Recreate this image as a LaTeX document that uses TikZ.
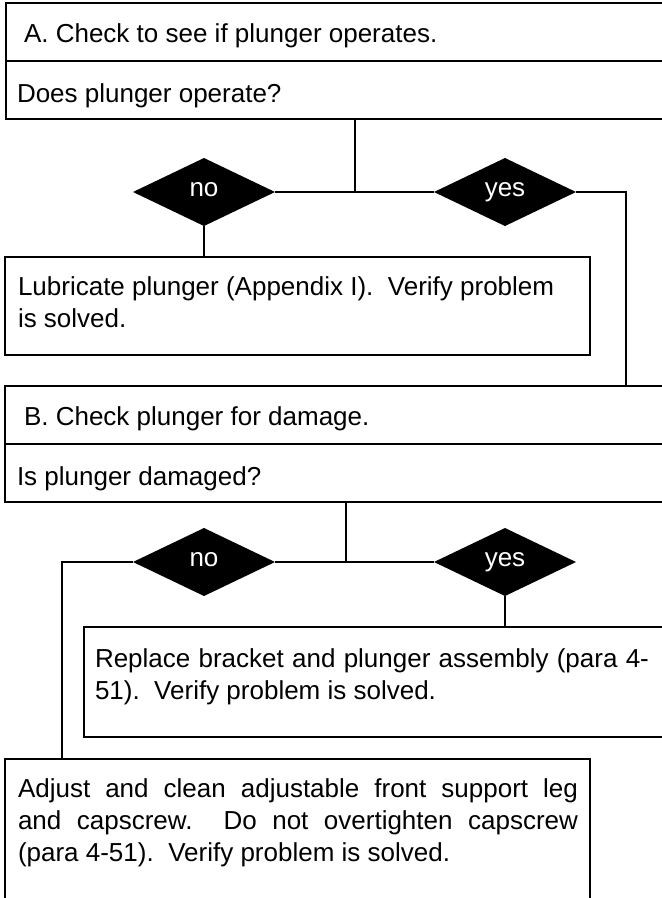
\documentclass[tikz,border=0pt]{standalone}
\usepackage{fontspec}
\setmainfont{Liberation Sans}
\usetikzlibrary{shapes.geometric}
\begin{document}
\begin{tikzpicture}[x=1pt,y=-1pt,line width=1.6pt,
  every node/.append style={font=\fontsize{26}{32}\selectfont, outer sep=0pt},
  panel/.style={draw, rectangle, anchor=north west, inner sep=0pt},
  txt/.style={anchor=base west, inner sep=0pt},
  dia/.style={diamond, fill=black, text=white, inner sep=0pt, minimum width=142pt, minimum height=68pt, text height=14pt, text depth=5pt},
  conn/.style={draw, line width=1.6pt}]
\useasboundingbox (0,0) rectangle (662,898);
\clip (0,0) rectangle (662,898);
\frenchspacing
% Block A
\node[panel, minimum width=720pt, minimum height=58pt] (a1) at (6,3) {};
\node[panel, minimum width=720pt, minimum height=58pt] (a2) at (6,61) {};
\node[txt] (ta) at (24,42) {A. Check to see if plunger operates.};
\node[txt] (td) at (17,102) {Does plunger operate?};
\node[dia] (no1) at (204,192) {no};
\node[dia] (yes1) at (505,192) {yes};
\node[panel, minimum width=585pt, minimum height=98pt] (lub) at (5,257) {};
\node[txt] (tl1) at (18,295) {Lubricate plunger (Appendix I).\ \ Verify problem};
\node[txt] (tl2) at (18,327) {is solved.};
% Block B
\node[panel, minimum width=720pt, minimum height=58pt] (b1) at (5,386) {};
\node[panel, minimum width=720pt, minimum height=58pt] (b2) at (5,444) {};
\node[txt] (tb) at (24,425) {B. Check plunger for damage.};
\node[txt] (ti) at (17,485) {Is plunger damaged?};
\node[dia] (no2) at (204,562) {no};
\node[dia] (yes2) at (505,562) {yes};
\node[panel, minimum width=700pt, minimum height=110pt] (rep) at (84,627) {};
\node[txt] (tr1) at (95,667) {\makebox[554pt][s]{Replace bracket and plunger assembly (para 4-}};
\node[txt] (tr2) at (95,699) {51).\ \ Verify problem is solved.};
\node[panel, minimum width=585pt, minimum height=200pt] (adj) at (5,759) {};
\node[txt] (ta1) at (18,797) {\makebox[560pt][s]{Adjust and clean adjustable front support leg}};
\node[txt] (ta2) at (18,829) {\makebox[560pt][s]{and capscrew.\ \ Do not overtighten capscrew}};
\node[txt] (ta3) at (18,861) {(para 4-51).\ \ Verify problem is solved.};
% connectors
\coordinate (j1) at (355,192);
\coordinate (r1) at (626,192);
\coordinate (j2) at (346,562);
\coordinate (l2) at (62,562);
\draw[conn] (a2.south -| j1) -- (j1);
\draw[conn] (no1.east) -- (yes1.west);
\draw[conn] (yes1.east) -- (r1) -- (r1 |- b1.north);
\draw[conn] (no1.south) -- (no1.south |- lub.north);
\draw[conn] (b2.south -| j2) -- (j2);
\draw[conn] (no2.east) -- (yes2.west);
\draw[conn] (no2.west) -- (l2) -- (l2 |- adj.north);
\draw[conn] (yes2.south) -- (yes2.south |- rep.north);
\end{tikzpicture}
\end{document}
